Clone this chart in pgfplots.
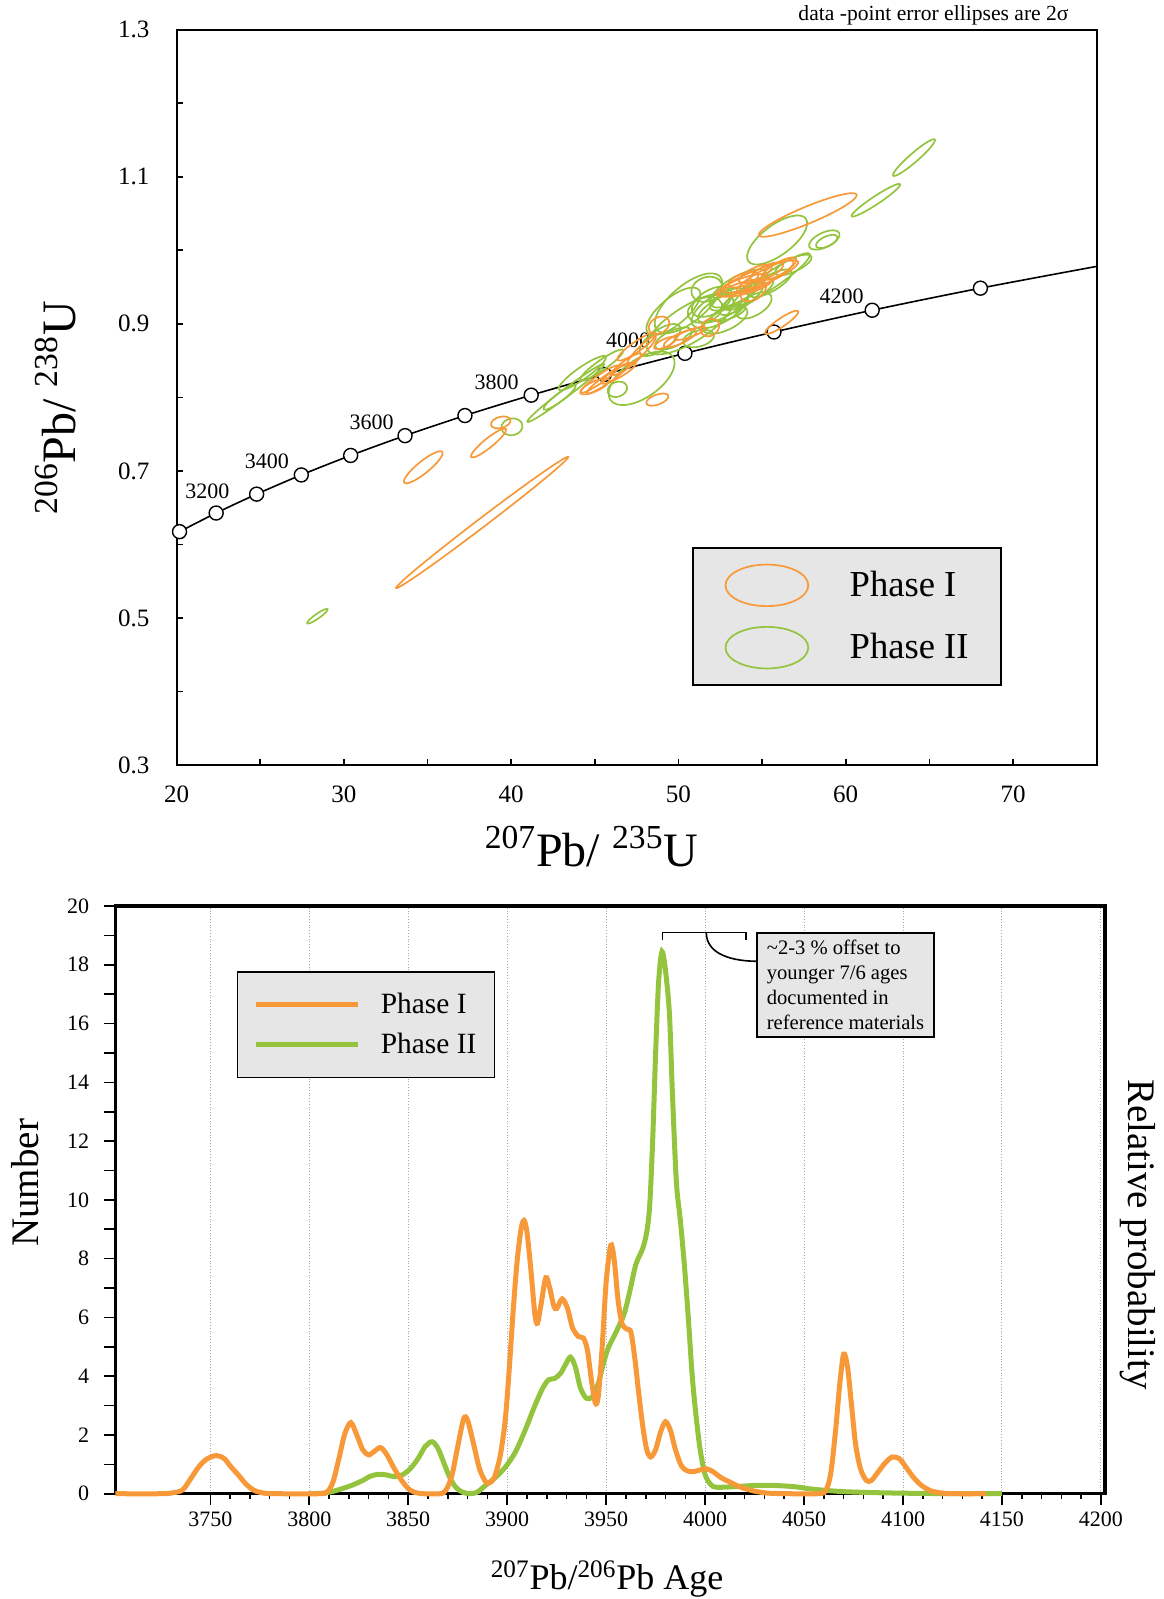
\documentclass[border=0pt]{standalone}
\usepackage{fontspec}
\setmainfont{Liberation Serif}
\usepackage{pgfplots}
\usepackage{pgfplotstable}
\pgfplotsset{compat=1.18}
\definecolor{orangeC}{RGB}{247,153,56}
\definecolor{greenC}{RGB}{148,196,62}
\definecolor{boxgray}{RGB}{230,230,230}

\def\ea{5}\def\eb{3}\def\er{0}
\pgfdeclareplotmark{ell}{%
  \pgftransformrotate{\er}%
  \pgfpathellipse{\pgfpointorigin}{\pgfpoint{\ea pt}{0pt}}{\pgfpoint{0pt}{\eb pt}}%
  \pgfusepathqstroke}
% one error ellipse: colour, semi-axes a b (pt), rotation (deg)
\pgfplotsset{ell/.style n args={4}{forget plot, only marks, mark=ell, #1,
  mark options={line width=0.85pt, solid, /utils/exec={\def\ea{#2}\def\eb{#3}\def\er{#4}}}}}

% Concordia curve (207Pb/235U, 206Pb/238U)
\pgfplotstableread{
x y
20.18 0.6175
22.37 0.6428
24.79 0.6685
27.46 0.6946
30.41 0.7211
33.66 0.7480
37.24 0.7753
41.20 0.8030
45.57 0.8312
50.39 0.8599
55.71 0.8889
61.58 0.9185
68.05 0.9485
75.00 0.9781
}\concordia
\pgfplotstableread{
x y
20.18 0.6175
22.37 0.6428
24.79 0.6685
27.46 0.6946
30.41 0.7211
33.66 0.7480
37.24 0.7753
41.20 0.8030
45.57 0.8312
50.39 0.8599
55.71 0.8889
61.58 0.9185
68.05 0.9485
}\concordiapts

% probability density curves
\pgfplotstableread{
t v
3702 0
3725 0
3731 0.03
3736 0.13
3740 0.5
3744 0.9
3748 1.17
3753 1.3
3757 1.2
3760 0.95
3764 0.65
3768 0.33
3772 0.12
3777 0.02
3785 0
3805 0
3809 0.06
3812 0.4
3815 1.2
3818 2.05
3821 2.42
3824 2.0
3827 1.5
3830 1.32
3833 1.45
3836 1.57
3839 1.35
3843 0.85
3847 0.42
3851 0.12
3856 0.01
3866 0
3869 0.12
3872 0.6
3875 1.6
3878 2.55
3880 2.5
3883 1.7
3886 0.85
3889 0.42
3891 0.37
3893.5 0.55
3896.5 1.3
3899 2.5
3901 4.2
3903 6.2
3905 7.9
3907 9.0
3908.5 9.3
3910 8.9
3912 7.6
3914 6.1
3915.3 5.8
3917 6.4
3919.5 7.35
3921.5 7.0
3923.5 6.4
3925 6.3
3927.8 6.63
3930.5 6.3
3933 5.65
3936 5.35
3938.5 5.3
3940.5 4.9
3942.5 3.9
3944.5 3.1
3946 3.3
3948 5.0
3950 7.2
3952.3 8.45
3954 8.0
3956 6.6
3958 5.8
3960.5 5.6
3962.5 5.5
3964.5 4.6
3966.5 3.4
3968.5 2.3
3970.5 1.5
3972.5 1.25
3975 1.5
3977.5 2.1
3980 2.45
3982.5 2.15
3985 1.5
3988 0.95
3991 0.78
3994 0.75
3997 0.8
4000.5 0.85
4004 0.75
4008 0.55
4013 0.38
4018 0.22
4023 0.12
4028 0.05
4035 0.01
4057 0
4061 0.12
4063.5 0.7
4066 2.2
4068 3.7
4070 4.75
4072 4.3
4074 3.0
4076 1.7
4078.5 0.85
4081.5 0.45
4084 0.45
4087 0.7
4091 1.05
4094.5 1.25
4098 1.2
4101 0.95
4105 0.58
4109 0.3
4114 0.1
4120 0.02
4126 0
4142 0
}\orangePDF
\pgfplotstableread{
t v
3800 0
3807 0.02
3812 0.08
3817 0.18
3822 0.3
3827 0.45
3831 0.6
3835 0.66
3839 0.64
3843 0.58
3847 0.64
3851 0.85
3855 1.2
3858.5 1.6
3862 1.77
3865 1.55
3868 1.05
3871 0.55
3874 0.22
3877.5 0.05
3881.5 0.0
3885 0.06
3889 0.28
3894 0.55
3899 0.9
3904 1.4
3909 2.15
3914 3.0
3918 3.6
3921 3.88
3924 3.92
3927 4.1
3929.5 4.4
3932 4.65
3934.5 4.3
3937 3.6
3940 3.25
3943 3.3
3946 3.75
3948.5 4.4
3951 4.95
3955 5.5
3959 6.1
3962 6.9
3965 7.8
3968.5 8.35
3970.5 8.9
3972 9.8
3973.5 12.0
3975 15.0
3976.5 17.4
3978.2 18.45
3980 17.8
3982 16.3
3983.5 13.6
3985.5 10.6
3987.5 9.3
3989.5 7.8
3991.5 6.0
3993.5 4.0
3995.5 2.6
3997.5 1.5
4000 0.65
4003 0.3
4006 0.22
4015 0.24
4025 0.28
4035 0.28
4045 0.24
4055 0.15
4070 0.07
4090 0.03
4110 0.01
4130 0
4150 0
}\greenPDF

\begin{document}
\begin{tikzpicture}
\useasboundingbox (0,0) rectangle (581.5pt,-799.5pt);

%================ TOP: concordia diagram =================
\begin{axis}[
  at={(88.25pt,-382.6pt)}, anchor=south west,
  scale only axis, width=460.1pt, height=367.8pt,
  xmin=20, xmax=75, ymin=0.3, ymax=1.3,
  xtick={20,30,40,50,60,70}, minor xtick={25,35,45,55,65,75},
  ytick={0.3,0.5,0.7,0.9,1.1,1.3}, minor ytick={0.4,0.6,0.8,1.0,1.2},
  yticklabels={0.3,0.5,0.7,0.9,1.1,1.3},
  tick align=inside, tick pos=left,
  major tick length=3pt, minor tick length=3pt,
  tick style={black, line width=0.8pt},
  axis line style={line width=1pt},
  ticklabel style={font=\fontsize{12.5}{14}\selectfont},
  /pgf/number format/assume math mode=true,
  yticklabel style={xshift=-10pt},
  xticklabel style={yshift=-7pt},
  clip=false,
  xlabel={\textsuperscript{207}Pb/ \textsuperscript{235}U},
  ylabel={\textsuperscript{206}Pb/ \textsuperscript{238}U},
  xlabel style={font=\fontsize{24}{28}\selectfont, at={(axis description cs:0.451,-0.111)}, anchor=center},
  ylabel style={font=\fontsize{24}{28}\selectfont, at={(axis description cs:-0.131,0.486)}, anchor=center},
  legend cell align=left,
  legend style={at={(0.5599,0.2969)}, anchor=north west, fill=boxgray, draw=black,
    line width=0.9pt, inner xsep=16pt, inner ysep=8pt, row sep=9.5pt,
    font=\fontsize{18.3}{20}\selectfont, nodes={inner sep=0pt},
    /tikz/every odd column/.append style={column sep=20.3pt}},
]
\addplot[forget plot, black, line width=0.8pt, smooth, mark=none] table[x=x,y=y] {\concordia};
\addplot[forget plot, only marks, mark=*, mark size=3.5pt,
  mark options={fill=white, draw=black, line width=0.7pt}] table[x=x,y=y] {\concordiapts};

% Phase II ellipses
\addplot[ell={greenC}{6.2}{1.2}{35}] coordinates {(28.42,0.5025)};
\addplot[ell={greenC}{5.3}{4.2}{10}] coordinates {(40.05,0.760)};
\addplot[ell={greenC}{24}{2.0}{37}] coordinates {(43.26,0.806)};
\addplot[ell={greenC}{10}{2.0}{37}] coordinates {(42.9,0.800)};
\addplot[ell={greenC}{14.3}{3.0}{35}] coordinates {(44.25,0.833)};
\addplot[ell={greenC}{13}{2.5}{35}] coordinates {(45.42,0.844)};
\addplot[ell={greenC}{19}{9.5}{35}] coordinates {(47.8,0.826)};
\addplot[ell={greenC}{5}{3.7}{20}] coordinates {(46.35,0.811)};
\addplot[ell={greenC}{16.7}{6.7}{40}] coordinates {(49.7,0.917)};
\addplot[ell={greenC}{10}{4}{25}] coordinates {(49.7,0.880)};
\addplot[ell={greenC}{12}{5}{35}] coordinates {(48.9,0.878)};
\addplot[ell={greenC}{16}{7}{30}] coordinates {(52.49,0.921)};
\addplot[ell={greenC}{16}{6}{30}] coordinates {(53.58,0.948)};
\addplot[ell={greenC}{9}{6}{20}] coordinates {(51.59,0.919)};
\addplot[ell={greenC}{13}{4}{35}] coordinates {(53.78,0.934)};
\addplot[ell={greenC}{25}{9}{32}] coordinates {(50.69,0.900)};
\addplot[ell={greenC}{20.7}{9}{40}] coordinates {(50.6,0.928)};
\addplot[ell={greenC}{8}{6}{20}] coordinates {(51.7,0.947)};
\addplot[ell={greenC}{12}{4}{30}] coordinates {(55.5,0.955)};
\addplot[ell={greenC}{10}{5}{30}] coordinates {(54.5,0.925)};
\addplot[ell={greenC}{12}{5}{25}] coordinates {(52.8,0.905)};
\addplot[ell={greenC}{8}{4}{15}] coordinates {(51.2,0.880)};
\addplot[ell={greenC}{14}{5}{28}] coordinates {(52.67,0.923)};
\addplot[ell={greenC}{12}{4}{25}] coordinates {(53.2,0.935)};
\addplot[ell={greenC}{11}{6}{30}] coordinates {(52.0,0.930)};
\addplot[ell={greenC}{14}{4}{30}] coordinates {(54.2,0.940)};
\addplot[ell={greenC}{23}{4}{34}] coordinates {(55.57,0.960)};
\addplot[ell={greenC}{9}{3}{20}] coordinates {(53.0,0.915)};
\addplot[ell={greenC}{17.9}{7.5}{36.7}] coordinates {(55.9,1.014)};
\addplot[ell={greenC}{8.3}{3.7}{25}] coordinates {(58.72,1.014)};
\addplot[ell={greenC}{5.8}{2.5}{25}] coordinates {(58.86,1.012)};
\addplot[ell={greenC}{10}{3.3}{25}] coordinates {(56.87,0.980)};
\addplot[ell={greenC}{14.5}{2.0}{33.5}] coordinates {(61.8,1.068)};
\addplot[ell={greenC}{13.8}{2.2}{41}] coordinates {(64.08,1.126)};
% Phase I ellipses
\addplot[ell={orangeC}{54.1}{2.2}{37.3}] coordinates {(38.27,0.630)};
\addplot[ell={orangeC}{12.2}{3.0}{39}] coordinates {(34.75,0.705)};
\addplot[ell={orangeC}{11.2}{2.3}{39}] coordinates {(38.65,0.738)};
\addplot[ell={orangeC}{5.0}{2.8}{15}] coordinates {(39.38,0.766)};
\addplot[ell={orangeC}{26.5}{4.2}{22.6}] coordinates {(57.73,1.048)};
\addplot[ell={orangeC}{10}{2.1}{34}] coordinates {(56.17,0.902)};
\addplot[ell={orangeC}{13.5}{3}{15}] coordinates {(53.98,0.949)};
\addplot[ell={orangeC}{16}{3.5}{28}] coordinates {(55.18,0.964)};
\addplot[ell={orangeC}{22}{4}{22}] coordinates {(54.72,0.962)};
\addplot[ell={orangeC}{12}{3}{18}] coordinates {(54.0,0.955)};
\addplot[ell={orangeC}{9}{3}{25}] coordinates {(54.6,0.968)};
\addplot[ell={orangeC}{7}{4}{30}] coordinates {(54.48,0.944)};
\addplot[ell={orangeC}{8}{3}{20}] coordinates {(53.88,0.960)};
\addplot[ell={orangeC}{9}{3}{25}] coordinates {(55.28,0.971)};
\addplot[ell={orangeC}{10}{3}{30}] coordinates {(56.0,0.975)};
\addplot[ell={orangeC}{5}{4}{40}] coordinates {(51.89,0.895)};
\addplot[ell={orangeC}{8.3}{1.8}{20}] coordinates {(50.7,0.887)};
\addplot[ell={orangeC}{9}{2.5}{25}] coordinates {(50.1,0.880)};
\addplot[ell={orangeC}{5.5}{4}{30}] coordinates {(48.84,0.898)};
\addplot[ell={orangeC}{6}{2}{25}] coordinates {(49.2,0.874)};
\addplot[ell={orangeC}{10}{2}{45}] coordinates {(47.8,0.864)};
\addplot[ell={orangeC}{11.7}{2.5}{35}] coordinates {(47.5,0.869)};
\addplot[ell={orangeC}{11.7}{2}{35}] coordinates {(45.31,0.825)};
\addplot[ell={orangeC}{13}{2}{35}] coordinates {(45.81,0.826)};
\addplot[ell={orangeC}{10}{2.2}{30}] coordinates {(46.41,0.833)};
\addplot[ell={orangeC}{9}{2}{35}] coordinates {(46.9,0.845)};
\addplot[ell={orangeC}{8}{2.5}{25}] coordinates {(45.0,0.815)};
\addplot[ell={orangeC}{5.8}{2.5}{20}] coordinates {(48.74,0.797)};

\addlegendimage{legend image code/.code={\draw[orangeC, line width=0.85pt] (20.7pt,0pt) ellipse [x radius=20.7pt, y radius=10.4pt];}}
\addlegendentry{Phase I}
\addlegendimage{legend image code/.code={\draw[greenC, line width=0.85pt] (20.7pt,0pt) ellipse [x radius=20.7pt, y radius=10.4pt];}}
\addlegendentry{Phase II}

\begin{scope}[font=\fontsize{11}{12}\selectfont]
\node at (axis cs:21.84,0.673) {3200};
\node at (axis cs:25.4,0.713) {3400};
\node at (axis cs:31.66,0.766) {3600};
\node at (axis cs:39.14,0.821) {3800};
\node at (axis cs:47.0,0.877) {4000};
\node at (axis cs:59.75,0.937) {4200};
\end{scope}
\node[font=\fontsize{10.8}{12}\selectfont] at (axis description cs:0.8227,1.0194) {data -point error ellipses are 2σ};
\end{axis}

%================ BOTTOM: probability density =================
\begin{axis}[
  at={(57.65pt,-746.85pt)}, anchor=south west,
  scale only axis, width=494.8pt, height=293.85pt,
  xmin=3702, xmax=4202, ymin=0, ymax=20,
  xtick={3750,3800,...,4200}, minor x tick num=4,
  ytick={0,1,...,20},
  yticklabels={0,,2,,4,,6,,8,,10,,12,,14,,16,,18,,20},
  tick align=outside, tick pos=left,
  major tick length=5.5pt, minor tick length=2.5pt,
  tick style={black, line width=0.8pt},
  axis line style={line width=1.7pt},
  xmajorgrids, major grid style={gray!70, densely dotted, line width=0.5pt},
  ticklabel style={font=\fontsize{11}{13}\selectfont},
  /pgf/number format/assume math mode=true,
  /pgf/number format/1000 sep={},
  yticklabel style={xshift=-4pt},
  clip=false,
  xlabel={\textsuperscript{207}Pb/\textsuperscript{206}Pb Age},
  ylabel={Number},
  xlabel style={font=\fontsize{18}{20}\selectfont, at={(axis description cs:0.497,-0.145)}, anchor=center},
  ylabel style={font=\fontsize{19.5}{22}\selectfont, at={(axis description cs:-0.0907,0.529)}, anchor=center},
  legend cell align=left,
  legend style={at={(0.1227,0.889)}, anchor=north west, fill=boxgray, draw=black,
    line width=0.7pt, inner xsep=8.2pt, inner ysep=9.5pt, row sep=6.4pt,
    font=\fontsize{14.7}{16}\selectfont, nodes={inner sep=1pt},
    /tikz/every odd column/.append style={column sep=9pt}},
]
\addplot[forget plot, greenC, line width=2.5pt, smooth, tension=0.5] table[x=t,y=v] {\greenPDF};
\addplot[forget plot, orangeC, line width=2.5pt, smooth, tension=0.5] table[x=t,y=v] {\orangePDF};

\addlegendimage{legend image code/.code={\draw[orangeC, line width=2.5pt] (0pt,0pt) -- (51pt,0pt);}}
\addlegendentry{Phase I}
\addlegendimage{legend image code/.code={\draw[greenC, line width=2.5pt] (0pt,0pt) -- (51pt,0pt);}}
\addlegendentry{Phase II}

\draw[black, line width=0.8pt] (axis cs:3978.5,18.83) -- (axis cs:3978.5,19.1) -- (axis cs:4020.6,19.1) -- (axis cs:4020.6,18.83);
\draw[black, line width=0.8pt] (axis cs:4000.6,19.1) to[out=-90,in=180] (axis cs:4026.2,18.12);
\node[draw=black, line width=0.8pt, fill=boxgray, anchor=north west, inner xsep=5pt, inner ysep=3.5pt,
  align=left, font=\fontsize{10.3}{12.5}\selectfont]
  at (axis description cs:0.6475,0.955)
  {\mbox{\textasciitilde 2-3 \% offset to}\\\mbox{younger 7/6 ages}\\\mbox{documented in}\\\mbox{reference materials}};
\node[rotate=-90, font=\fontsize{19.5}{22}\selectfont, anchor=center] at (axis description cs:1.033,0.441) {Relative probability};
\end{axis}
\end{tikzpicture}
\end{document}
